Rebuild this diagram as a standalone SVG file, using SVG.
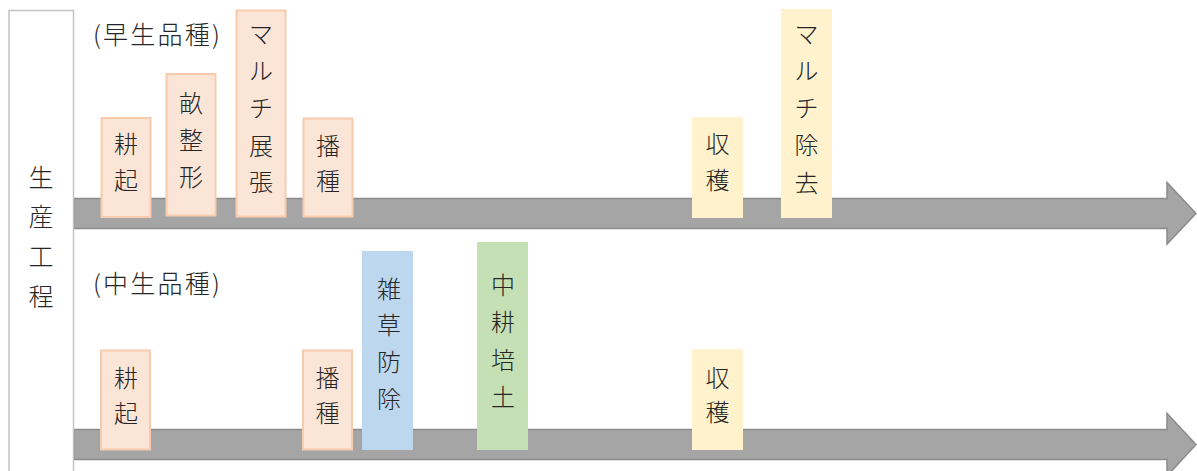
<svg xmlns="http://www.w3.org/2000/svg" width="1197" height="471" viewBox="0 0 1197 471">
<style>
text{font-family:"Noto Sans CJK JP","Noto Sans CJK SC",sans-serif;fill:#262626;font-weight:300;}
.t{font-size:24px;text-anchor:middle;dominant-baseline:central;}
.lbl{font-size:25px;dominant-baseline:central;}
.side{font-size:25px;text-anchor:middle;dominant-baseline:central;}
.peach{fill:#fbe5d6;stroke:#f8cbad;stroke-width:2;}
.yellow{fill:#fff2cc;stroke:none;}
.blue{fill:#bdd7ee;stroke:none;}
.green{fill:#c5e0b4;stroke:none;}
.arrow{fill:#a5a5a5;stroke:#8b8b8b;stroke-width:1.5;}
</style>
<rect width="1197" height="471" fill="#ffffff"/>
<g id="connectors">
<polygon class="arrow" points="74,198.5 1167,198.5 1167,182.5 1196,213.5 1167,244 1167,228.5 74,228.5"/>
<polygon class="arrow" points="74,429.5 1167,429.5 1167,413.5 1196,444.5 1167,476 1167,459.5 74,459.5"/>
</g>
<g id="side-label">
<rect x="9" y="10.5" width="64.5" height="470" fill="#ffffff" stroke="#c4c4c4" stroke-width="1.5"/>
<text class="side"><tspan x="41" y="176">生</tspan><tspan x="41" y="215">産</tspan><tspan x="41" y="255">工</tspan><tspan x="41" y="295">程</tspan></text>
</g>
<g id="label-early"><text class="lbl" x="93" y="33" textLength="127" lengthAdjust="spacing">(早生品種)</text></g>
<g id="label-mid"><text class="lbl" x="93" y="282" textLength="127" lengthAdjust="spacing">(中生品種)</text></g>
<g id="e-kouki">
<rect class="peach" x="101.5" y="118" width="49" height="99"/>
<text class="t"><tspan x="126" y="142">耕</tspan><tspan x="126" y="177.5">起</tspan></text>
</g>
<g id="e-uneseikei">
<rect class="peach" x="166.5" y="74" width="49" height="141.5"/>
<text class="t"><tspan x="191" y="101">畝</tspan><tspan x="191" y="137.5">整</tspan><tspan x="191" y="174.5">形</tspan></text>
</g>
<g id="e-mulch">
<rect class="peach" x="236.5" y="10.5" width="49" height="206"/>
<text class="t"><tspan x="261" y="32">マ</tspan><tspan x="261" y="69">ル</tspan><tspan x="261" y="106">チ</tspan><tspan x="261" y="144">展</tspan><tspan x="261" y="180">張</tspan></text>
</g>
<g id="e-hashu">
<rect class="peach" x="303.5" y="118.5" width="49" height="98"/>
<text class="t"><tspan x="328" y="144">播</tspan><tspan x="328" y="179">種</tspan></text>
</g>
<g id="e-shukaku">
<rect class="yellow" x="692" y="117" width="51" height="101"/>
<text class="t"><tspan x="717.5" y="142">収</tspan><tspan x="717.5" y="178">穫</tspan></text>
</g>
<g id="e-mulch-remove">
<rect class="yellow" x="781" y="9" width="51" height="209"/>
<text class="t"><tspan x="806.5" y="32">マ</tspan><tspan x="806.5" y="69">ル</tspan><tspan x="806.5" y="106">チ</tspan><tspan x="806.5" y="143">除</tspan><tspan x="806.5" y="181">去</tspan></text>
</g>
<g id="m-kouki">
<rect class="peach" x="101" y="350.5" width="49" height="99"/>
<text class="t"><tspan x="126" y="376">耕</tspan><tspan x="126" y="411">起</tspan></text>
</g>
<g id="m-hashu">
<rect class="peach" x="303" y="350.5" width="49" height="99"/>
<text class="t"><tspan x="327.5" y="376">播</tspan><tspan x="327.5" y="411">種</tspan></text>
</g>
<g id="m-zassou">
<rect class="blue" x="362" y="251" width="51" height="199"/>
<text class="t"><tspan x="389" y="287">雑</tspan><tspan x="389" y="323">草</tspan><tspan x="389" y="360">防</tspan><tspan x="389" y="397">除</tspan></text>
</g>
<g id="m-chuko">
<rect class="green" x="477" y="242" width="51" height="208"/>
<text class="t"><tspan x="503" y="283">中</tspan><tspan x="503" y="320">耕</tspan><tspan x="503" y="357.5">培</tspan><tspan x="503" y="395">土</tspan></text>
</g>
<g id="m-shukaku">
<rect class="yellow" x="692" y="349" width="51" height="101"/>
<text class="t"><tspan x="717.5" y="376">収</tspan><tspan x="717.5" y="410">穫</tspan></text>
</g>
</svg>
